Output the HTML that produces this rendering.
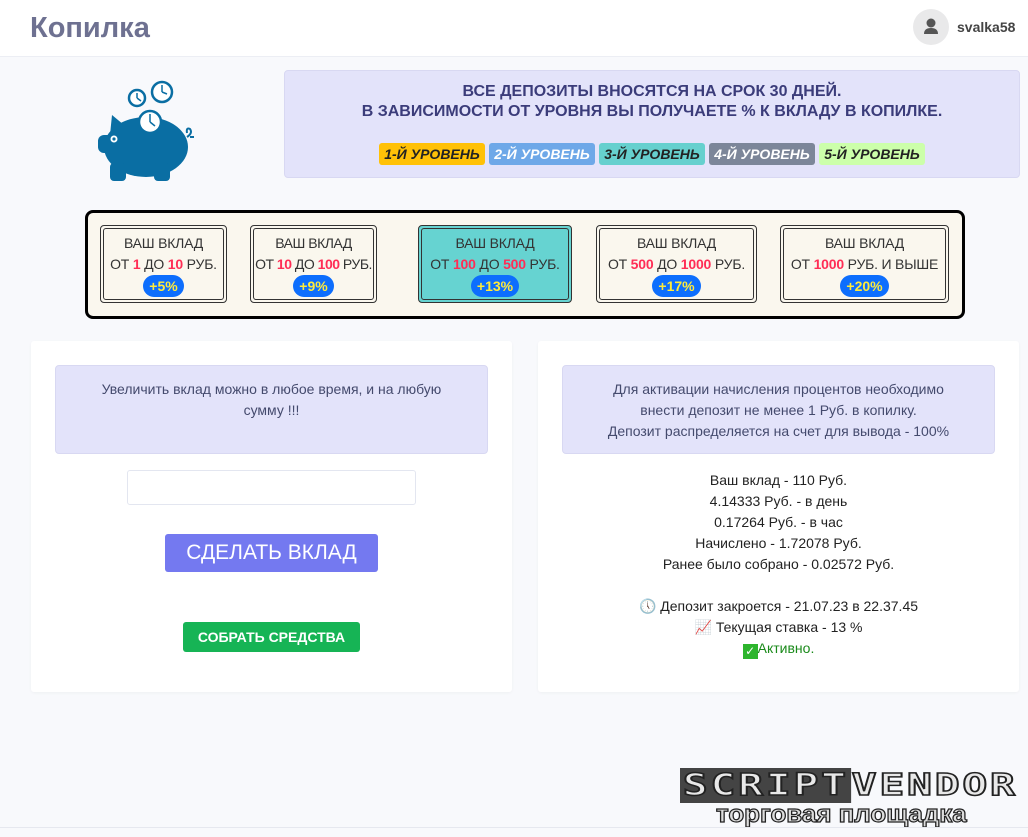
<!DOCTYPE html>
<html><head><meta charset="utf-8"><style>
*{margin:0;padding:0;box-sizing:border-box}
body{width:1028px;height:837px;background:#f8f9fc;font-family:"Liberation Sans","DejaVu Sans",sans-serif;position:relative;overflow:hidden;color:#333}
.a{position:absolute}
.hdr{left:0;top:0;width:1028px;height:57px;background:#fff;border-bottom:1px solid #eceef4}
.c{text-align:center}
.badge{position:absolute;top:143px;height:22px;border-radius:3px;font-size:14px;font-style:italic;font-weight:bold;line-height:22px;text-align:center}
.card{position:absolute;top:225px;height:78px;border:1px solid #333;border-radius:4px;padding:2px}
.card .in{border:1px solid #333;border-radius:3px;height:100%;text-align:center;font-size:14px;color:#333;padding-top:4px;line-height:21px;white-space:nowrap;letter-spacing:-0.2px}
.card .r{color:#ff2d55;font-weight:bold}
.pct{display:inline-block;background:#0d6efd;color:#ffeb3b;font-weight:bold;border-radius:11px;padding:0 6px;height:22px;line-height:22px;font-size:14px;letter-spacing:0}
.panel{background:#fff;top:341px;height:351px;border-radius:3px;box-shadow:0 1px 3px rgba(0,0,0,.04)}
.alert{background:#e3e3fa;border:1px solid #d8d8f2;border-radius:4px;top:365px;height:89px;font-size:14px;color:#444a6d;text-align:center;line-height:21px}
.rt{left:538px;width:481px;text-align:center;font-size:14px;color:#222;line-height:21px}
</style></head><body>
<div class="a hdr"></div>
<div class="a" style="left:30px;top:12px;font-size:29px;font-weight:bold;color:#6e7191">Копилка</div>
<div class="a" style="left:913px;top:9px;width:36px;height:36px;border-radius:50%;background:#e9e9ea">
<svg width="36" height="36"><circle cx="18" cy="14" r="4.5" fill="#555"/><path d="M11 25 Q11 19 18 19 Q25 19 25 25 Z" fill="#555"/></svg></div>
<div class="a" style="left:957px;top:19px;font-size:14px;font-weight:bold;color:#444">svalka58</div>

<svg class="a" style="left:90px;top:75px" width="110" height="110">
<g fill="#0a6ea3"><ellipse cx="56" cy="72" rx="42" ry="30"/><path d="M20 60 L22 40 L34 50Z"/><rect x="8" y="60" width="20" height="18" rx="6"/>
<rect x="20" y="88" width="16" height="18" rx="4"/><rect x="64" y="88" width="16" height="18" rx="4"/></g>
<path d="M97 62 q6 -4 3 -8 q-4 -2 -3 4 M100 62 h4" stroke="#0a6ea3" stroke-width="2" fill="none"/>
<circle cx="24" cy="64" r="3.5" fill="#fff"/><circle cx="24" cy="64" r="1.6" fill="#0a6ea3"/>
<g fill="#fff" stroke="#0a6ea3" stroke-width="2.5"><circle cx="47" cy="23" r="8"/><circle cx="72" cy="17" r="10"/><circle cx="60" cy="47" r="11"/></g>
<g stroke="#0a6ea3" stroke-width="1.5"><path d="M47 23 V18 M47 23 L51 26 M72 17 V10 M72 17 L77 19 M60 47 V39 M60 47 L65 51"/></g>
</svg>

<div class="a" style="left:284px;top:70px;width:736px;height:108px;background:#e3e3fa;border:1px solid #d8d8f2;border-radius:4px"></div>
<div class="a c" style="left:284px;top:82px;width:736px;font-size:16px;font-weight:bold;color:#3b3c7a;line-height:20px">ВСЕ ДЕПОЗИТЫ ВНОСЯТСЯ НА СРОК 30 ДНЕЙ.<br>В ЗАВИСИМОСТИ ОТ УРОВНЯ ВЫ ПОЛУЧАЕТЕ % К ВКЛАДУ В КОПИЛКЕ.</div>
<div class="badge" style="left:379px;width:106px;background:#ffc107;color:#222">1-Й УРОВЕНЬ</div>
<div class="badge" style="left:489px;width:106px;background:#6ea8e8;color:#fff">2-Й УРОВЕНЬ</div>
<div class="badge" style="left:599px;width:106px;background:#66d0ce;color:#222">3-Й УРОВЕНЬ</div>
<div class="badge" style="left:709px;width:106px;background:#7c8699;color:#fff">4-Й УРОВЕНЬ</div>
<div class="badge" style="left:819px;width:106px;background:#ccffaa;color:#222">5-Й УРОВЕНЬ</div>

<div class="a" style="left:85px;top:210px;width:880px;height:109px;background:#faf7ee;border:3px solid #000;border-radius:8px"></div>
<div class="card" style="left:100px;width:127px"><div class="in">ВАШ ВКЛАД<br>ОТ <span class="r">1</span> ДО <span class="r">10</span> РУБ.<br><span class="pct">+5%</span></div></div>
<div class="card" style="left:250px;width:127px"><div class="in" style="letter-spacing:-0.5px">ВАШ ВКЛАД<br>ОТ <span class="r">10</span> ДО <span class="r">100</span> РУБ.<br><span class="pct">+9%</span></div></div>
<div class="card" style="left:418px;width:154px;background:#66d3d1"><div class="in">ВАШ ВКЛАД<br>ОТ <span class="r">100</span> ДО <span class="r">500</span> РУБ.<br><span class="pct">+13%</span></div></div>
<div class="card" style="left:596px;width:161px"><div class="in">ВАШ ВКЛАД<br>ОТ <span class="r">500</span> ДО <span class="r">1000</span> РУБ.<br><span class="pct">+17%</span></div></div>
<div class="card" style="left:780px;width:169px"><div class="in">ВАШ ВКЛАД<br>ОТ <span class="r">1000</span> РУБ. И ВЫШЕ<br><span class="pct">+20%</span></div></div>

<div class="a panel" style="left:31px;width:481px"></div>
<div class="a panel" style="left:538px;width:481px"></div>
<div class="a alert" style="left:55px;width:433px;padding:13px 40px 0">Увеличить вклад можно в любое время, и на любую сумму !!!</div>
<div class="a" style="left:127px;top:470px;width:289px;height:35px;background:#fff;border:1px solid #e3e6f0;border-radius:3px"></div>
<div class="a c" style="left:165px;top:534px;width:213px;height:38px;background:#7479f0;border-radius:3px;color:#fff;font-size:21px;line-height:38px">СДЕЛАТЬ ВКЛАД</div>
<div class="a c" style="left:183px;top:622px;width:177px;height:30px;background:#16b455;border-radius:3px;color:#fff;font-size:14px;font-weight:bold;line-height:30px">СОБРАТЬ СРЕДСТВА</div>

<div class="a alert" style="left:562px;width:433px;padding-top:13px">Для активации начисления процентов необходимо<br>внести депозит не менее 1 Руб. в копилку.<br>Депозит распределяется на счет для вывода - 100%</div>
<div class="a rt" style="top:470px">Ваш вклад - 110 Руб.<br>4.14333 Руб. - в день<br>0.17264 Руб. - в час<br>Начислено - 1.72078 Руб.<br>Ранее было собрано - 0.02572 Руб.<br><br>🕔 Депозит закроется - 21.07.23 в 22.37.45<br>📈 Текущая ставка - 13 %<br><span style="display:inline-block;width:15px;height:15px;background:#2db52d;color:#fff;font-size:12px;line-height:15px;vertical-align:-2px">✓</span><span style="color:#1a8a1a">Активно.</span></div>

<div class="a" style="left:680px;top:770px;width:244px;height:32px;font-family:'DejaVu Sans Mono',monospace;font-size:30px;font-weight:bold;letter-spacing:2px;line-height:32px;color:#e8e8e8;-webkit-text-stroke:1.5px #222;transform:scaleX(1.38);transform-origin:0 0;white-space:nowrap"><span style="background:#444;padding:0 2px">SCRIPT</span>VENDOR</div>
<div class="a" style="left:716px;top:800px;font-size:24px;font-weight:bold;color:#ddd;-webkit-text-stroke:1.2px #222;line-height:30px;transform:scaleX(1.08);transform-origin:0 0;white-space:nowrap">торговая площадка</div>
<div class="a" style="left:0;top:827px;width:1028px;height:1px;background:#e6e8ef"></div>
</body></html>
